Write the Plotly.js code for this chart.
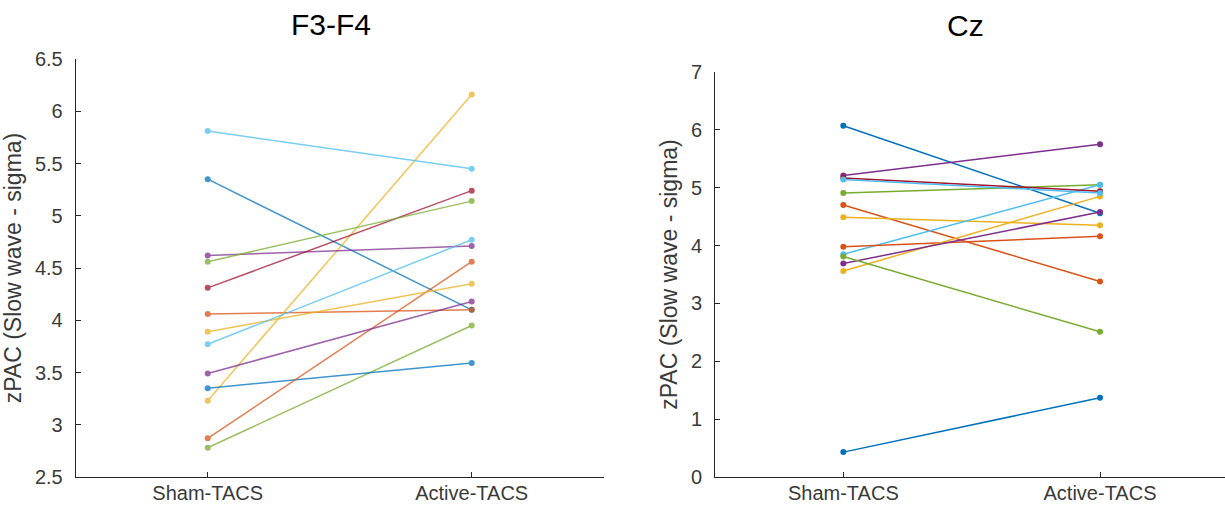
<!DOCTYPE html>
<html>
<head>
<meta charset="utf-8">
<script src="https://cdn.plot.ly/plotly-3.0.1.min.js"></script>
<style>html,body{margin:0;padding:0;background:#fff;}#chart{width:1225px;height:505px;}</style>
</head>
<body>
<div id="chart"></div>
<script>
// ---- data ----
const conditions = ["Sham-TACS", "Active-TACS"];
const panelTitles = ["F3-F4", "Cz"];
const yTitle = "zPAC (Slow wave - sigma)";

// MATLAB default colour order, cycled per subject
const lineColors = ["#0072BD", "#D95319", "#EDB120", "#7E2F8E", "#77AC30", "#4DBEEE", "#A2142F",
                    "#0072BD", "#D95319", "#EDB120", "#7E2F8E", "#77AC30", "#4DBEEE"];

// F3-F4 panel
const f3f4Sham   = [5.35, 4.06, 3.23, 4.62, 2.78, 5.81, 4.31, 3.35, 2.87, 3.89, 3.49, 4.56, 3.77];
const f3f4Active = [4.10, 4.10, 6.16, 4.71, 3.95, 5.45, 5.24, 3.59, 4.56, 4.35, 4.18, 5.14, 4.77];

// Cz panel
const czSham   = [6.07, 4.70, 4.49, 5.21, 4.91, 3.85, 5.17, 0.43, 3.98, 3.56, 3.69, 3.81, 5.14];
const czActive = [4.56, 3.38, 4.35, 5.75, 5.05, 5.05, 4.94, 1.37, 4.16, 4.85, 4.58, 2.51, 4.91];

// ---- traces ----
const traces = [];
function addPanel(sham, active, xa, ya, op) {
  for (let i = 0; i < sham.length; i++) {
    traces.push({
      x: conditions,
      y: [sham[i], active[i]],
      xaxis: xa, yaxis: ya,
      type: "scatter", mode: "lines+markers",
      line: {color: lineColors[i % lineColors.length], width: 1.5},
      marker: {color: lineColors[i % lineColors.length], size: 6},
      opacity: op,
      showlegend: false, hoverinfo: "y"
    });
  }
}
addPanel(f3f4Sham, f3f4Active, "x", "y", 0.75);
addPanel(czSham, czActive, "x2", "y2", 1);

const W = 1225, H = 505;
const axCol = "#262626";
const tickCol = "#3a3a3a";
const tickFont = {family: "Liberation Sans, Arial, sans-serif", size: 20, color: tickCol};
const xTickFont = {family: "Liberation Sans, Arial, sans-serif", size: 20, color: tickCol};
const titleFont = {family: "Liberation Sans, Arial, sans-serif", size: 23, color: tickCol};

function xAxis(domain, range) {
  return {
    domain: domain, type: "category", categoryorder: "array", categoryarray: conditions,
    range: range, showgrid: false, zeroline: false, showline: true, linecolor: axCol, linewidth: 1,
    ticks: "inside", ticklen: 5, tickcolor: axCol, tickfont: xTickFont, ticklabelstandoff: -2,
    fixedrange: true
  };
}
function yAxis(domain, range, dtick, anchor) {
  return {
    domain: domain, range: range, dtick: dtick, anchor: anchor,
    showgrid: false, zeroline: false, showline: true, linecolor: axCol, linewidth: 1,
    ticks: "inside", ticklen: 5, tickcolor: axCol, tickfont: tickFont, ticklabelstandoff: 8,
    title: {text: yTitle, font: titleFont, standoff: 6}, fixedrange: true
  };
}

const layout = {
  width: W, height: H,
  margin: {l: 0, r: 0, t: 0, b: 0},
  paper_bgcolor: "#fff", plot_bgcolor: "#fff",
  font: {family: "Liberation Sans, Arial, sans-serif", color: axCol},
  xaxis: Object.assign(xAxis([75.7 / W, 603.7 / W], [-0.5, 1.5]), {anchor: "y"}),
  yaxis: yAxis([28 / H, 446 / H], [2.5, 6.5], 0.5, "x"),
  xaxis2: Object.assign(xAxis([715 / W, 1], [-0.5, 1.487]), {anchor: "y2"}),
  yaxis2: yAxis([28 / H, 433 / H], [0, 7], 1, "x2"),
  annotations: [
    {text: panelTitles[0], xref: "paper", yref: "paper", x: 331 / W, y: (H - 24) / H,
     xanchor: "center", yanchor: "middle", showarrow: false,
     font: {family: "Liberation Sans, Arial, sans-serif", size: 30, color: "#000"}},
    {text: panelTitles[1], xref: "paper", yref: "paper", x: 965 / W, y: (H - 25) / H,
     xanchor: "center", yanchor: "middle", showarrow: false,
     font: {family: "Liberation Sans, Arial, sans-serif", size: 30, color: "#000"}}
  ]
};

Plotly.newPlot("chart", traces, layout, {displayModeBar: false, staticPlot: true});
</script>
</body>
</html>
